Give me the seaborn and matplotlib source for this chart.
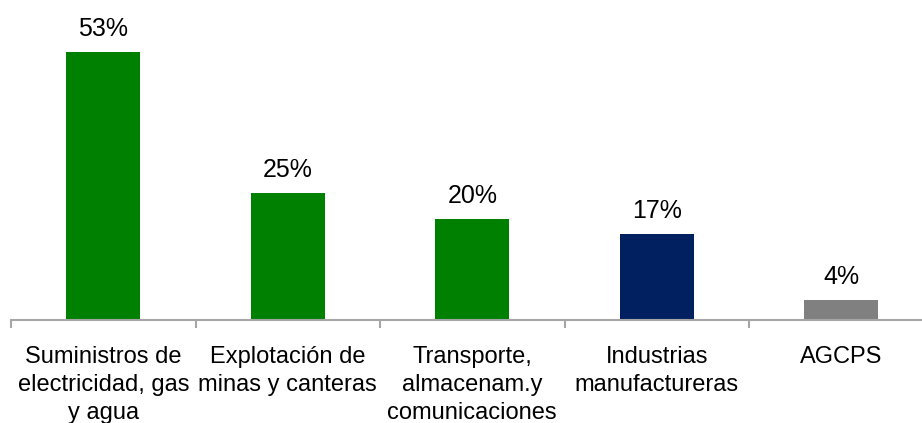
import matplotlib
matplotlib.use("Agg")
import matplotlib.pyplot as plt
import seaborn as sns
import pandas as pd

sectors = [
    "Suministros de\nelectricidad, gas\ny agua",
    "Explotación de\nminas y canteras",
    "Transporte,\nalmacenam.y\ncomunicaciones",
    "Industrias\nmanufactureras",
    "AGCPS",
]
shares = [53, 25, 20, 17, 4]
bar_colors = ["#008000", "#008000", "#008000", "#002060", "#808080"]

sns.set_theme(style="white")
plt.rcParams["font.family"] = ["Liberation Sans", "DejaVu Sans"]

df = pd.DataFrame({"sector": sectors, "share": shares})

W, H = 922, 423
fig = plt.figure(figsize=(W / 100, H / 100), dpi=100)
ax = fig.add_axes([11 / W, 103 / H, 922.5 / W, 303.6 / H])

sns.barplot(data=df, x="sector", y="share", hue="sector",
            palette=bar_colors, width=0.4, legend=False, ax=ax,
            saturation=1, linewidth=0)

ax.set_ylim(0, 60)
ax.set_xlim(-0.5, 4.5)
ax.set_xlabel("")
ax.set_ylabel("")
ax.set_yticks([])

for s in ["top", "right", "left"]:
    ax.spines[s].set_visible(False)
ax.spines["bottom"].set_color("#a6a6a6")
ax.spines["bottom"].set_linewidth(1.5)

# category labels centred under bars, tick marks on category boundaries
ax.set_xticks(range(len(sectors)))
ax.set_xticklabels(sectors, fontsize=17, color="#000000", linespacing=1.33)
ax.tick_params(axis="x", which="major", length=0, pad=19)
ax.set_xticks([i - 0.5 for i in range(len(sectors) + 1)], minor=True)
ax.tick_params(axis="x", which="minor", length=6, width=1.5,
               color="#a6a6a6", direction="out", bottom=True)

for i, v in enumerate(shares):
    ax.annotate(f"{v}%", xy=(i, v), xytext=(0, 8), textcoords="offset points",
                ha="center", va="bottom", fontsize=18, color="#000000")

fig.savefig("out.png", dpi=100)
